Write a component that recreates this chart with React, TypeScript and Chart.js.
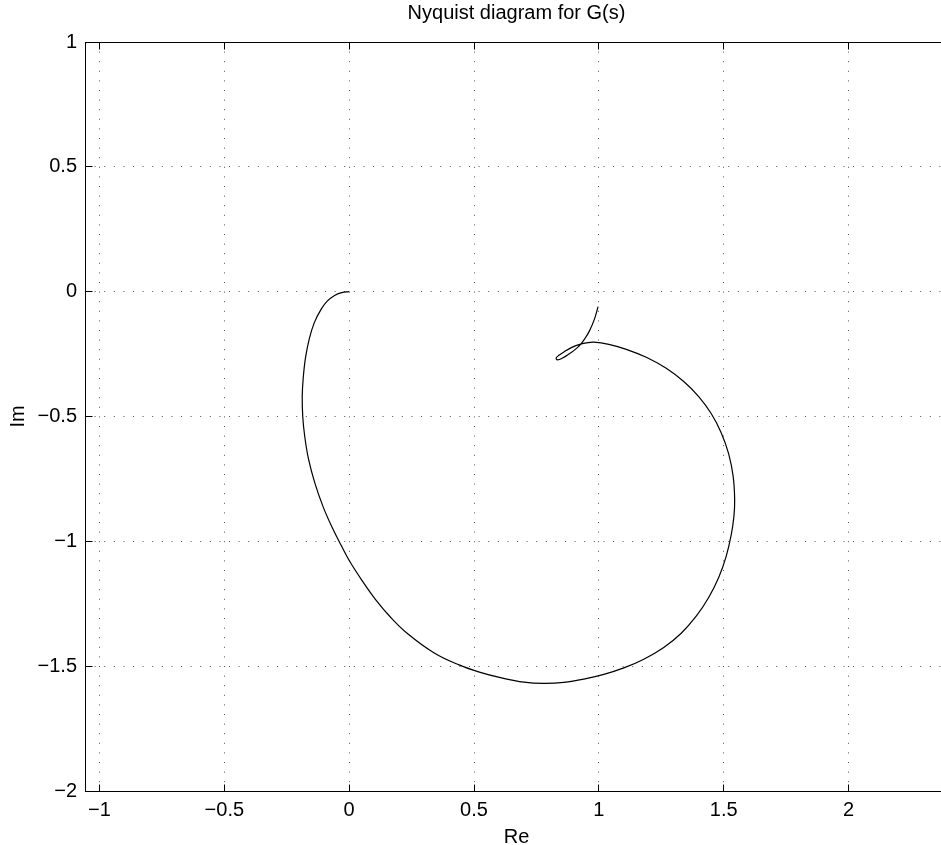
import React, { useEffect, useRef } from "react";
import { Chart, registerables } from "chart.js";

Chart.register(...registerables);

// ---- data ----
const reValues = [
  0, -0.03, -0.06, -0.088, -0.112, -0.14, -0.16, -0.175, -0.184, -0.188,
  -0.186, -0.178, -0.163, -0.138, -0.105, -0.068, -0.03, 0.005, 0.055, 0.105,
  0.165, 0.232, 0.339, 0.44, 0.525, 0.606, 0.7, 0.78, 0.86, 0.94,
  1.02, 1.1, 1.18, 1.26, 1.33, 1.39, 1.44, 1.48, 1.51, 1.53,
  1.541, 1.544, 1.538, 1.52, 1.49, 1.45, 1.4, 1.34, 1.27, 1.19,
  1.11, 1.04, 0.98, 0.95, 0.92, 0.89, 0.862, 0.84, 0.829, 0.834,
  0.853, 0.879, 0.906, 0.926, 0.944, 0.962, 0.982, 0.997,
];
const imValues = [
  0, -0.004, -0.016, -0.038, -0.07, -0.125, -0.19, -0.265, -0.345, -0.42,
  -0.5, -0.58, -0.67, -0.765, -0.86, -0.945, -1.02, -1.085, -1.162, -1.232,
  -1.303, -1.368, -1.446, -1.495, -1.525, -1.546, -1.564, -1.569, -1.565, -1.552,
  -1.533, -1.507, -1.472, -1.425, -1.368, -1.3, -1.225, -1.145, -1.06, -0.975,
  -0.9, -0.832, -0.74, -0.65, -0.565, -0.488, -0.42, -0.36, -0.307, -0.263,
  -0.231, -0.211, -0.202, -0.205, -0.212, -0.224, -0.24, -0.255, -0.266, -0.273,
  -0.267, -0.251, -0.231, -0.212, -0.188, -0.158, -0.111, -0.06,
];

const xTicks = [-1, -0.5, 0, 0.5, 1, 1.5, 2];
const xTickLabels = ["\u22121", "\u22120.5", "0", "0.5", "1", "1.5", "2"];
const yTicks = [1, 0.5, 0, -0.5, -1, -1.5, -2];
const yTickLabels = ["1", "0.5", "0", "\u22120.5", "\u22121", "\u22121.5", "\u22122"];

const xMin = -1.0581;
const xMax = 2.3985;
const yMin = -2;
const yMax = 1;

const titleText = "Nyquist diagram for G(s)";
const xLabelText = "Re";
const yLabelText = "Im";

const FONT = '"Liberation Sans", Arial, Helvetica, sans-serif';

const framePlugin = {
  id: "matlabFrame",
  afterDraw(chart: any) {
    const { ctx, chartArea, scales } = chart;
    const xs = scales.x;
    const ys = scales.y;
    const L = chartArea.left + 0.5;
    const T = chartArea.top + 0.5;
    const R = chartArea.right + 0.5;
    const B = chartArea.bottom + 0.5;
    const al = (p: number) => Math.round(p - 0.5) + 0.5;
    const tl = 7;
    ctx.save();
    ctx.strokeStyle = "#000";
    ctx.lineWidth = 1;
    ctx.setLineDash([]);
    ctx.strokeRect(L, T, R - L, B - T);
    ctx.beginPath();
    xTicks.forEach((v) => {
      const px = al(xs.getPixelForValue(v));
      ctx.moveTo(px, B);
      ctx.lineTo(px, B - tl);
      ctx.moveTo(px, T);
      ctx.lineTo(px, T + tl);
    });
    yTicks.forEach((v) => {
      const py = al(ys.getPixelForValue(v));
      ctx.moveTo(L, py);
      ctx.lineTo(L + tl, py);
      ctx.moveTo(R, py);
      ctx.lineTo(R - tl, py);
    });
    ctx.stroke();

    ctx.fillStyle = "#000";
    ctx.font = `20px ${FONT}`;
    ctx.textAlign = "center";
    ctx.textBaseline = "middle";
    const cx = (chartArea.left + chartArea.right) / 2;
    ctx.fillText(titleText, cx, 13);
    ctx.fillText(xLabelText, cx, 837);
    ctx.translate(18, (chartArea.top + chartArea.bottom) / 2);
    ctx.rotate(-Math.PI / 2);
    ctx.fillText(yLabelText, 0, 0);
    ctx.restore();
  },
};

export default function App() {
  const ref = useRef<HTMLCanvasElement | null>(null);

  useEffect(() => {
    if (!ref.current) return;
    const points = reValues.map((x, i) => ({ x, y: imValues[i] }));
    const chart = new Chart(ref.current, {
      type: "scatter",
      data: {
        datasets: [
          {
            data: points,
            showLine: true,
            borderColor: "#000",
            borderWidth: 1.2,
            pointRadius: 0,
            tension: 0.4,
            fill: false,
          },
        ],
      },
      options: {
        responsive: false,
        maintainAspectRatio: false,
        animation: false,
        devicePixelRatio: 1,
        layout: { padding: { top: 42, right: 12, left: 0, bottom: 0 } },
        plugins: {
          legend: { display: false },
          title: { display: false },
          tooltip: { enabled: false },
        },
        scales: {
          x: {
            type: "linear",
            min: xMin,
            max: xMax,
            afterBuildTicks: (s: any) => {
              s.ticks = xTicks.map((v) => ({ value: v }));
            },
            afterFit: (s: any) => {
              s.height = 54;
            },
            grid: {
              color: "#555",
              lineWidth: 1,
              drawTicks: false,
            },
            border: { display: false, dash: [1, 8.6] },
            ticks: {
              padding: 7,
              color: "#000",
              font: { family: FONT, size: 20 },
              maxRotation: 0,
              autoSkip: false,
              callback: (v: any) => xTickLabels[xTicks.indexOf(Number(v))] ?? "",
            },
          },
          y: {
            type: "linear",
            min: yMin,
            max: yMax,
            afterBuildTicks: (s: any) => {
              s.ticks = yTicks.map((v) => ({ value: v }));
            },
            afterFit: (s: any) => {
              s.width = 85;
            },
            grid: {
              color: "#555",
              lineWidth: 1,
              drawTicks: false,
            },
            border: { display: false, dash: [1, 8.6] },
            ticks: {
              padding: 8,
              color: "#000",
              font: { family: FONT, size: 20 },
              autoSkip: false,
              callback: (v: any) => yTickLabels[yTicks.indexOf(Number(v))] ?? "",
            },
          },
        },
      },
      plugins: [framePlugin],
    });
    return () => chart.destroy();
  }, []);

  return (
    <div
      style={{
        position: "absolute",
        left: 0,
        top: 0,
        width: 941,
        height: 845,
        overflow: "hidden",
        background: "#fff",
      }}
    >
      <canvas ref={ref} width={960} height={845} style={{ display: "block" }} />
    </div>
  );
}
